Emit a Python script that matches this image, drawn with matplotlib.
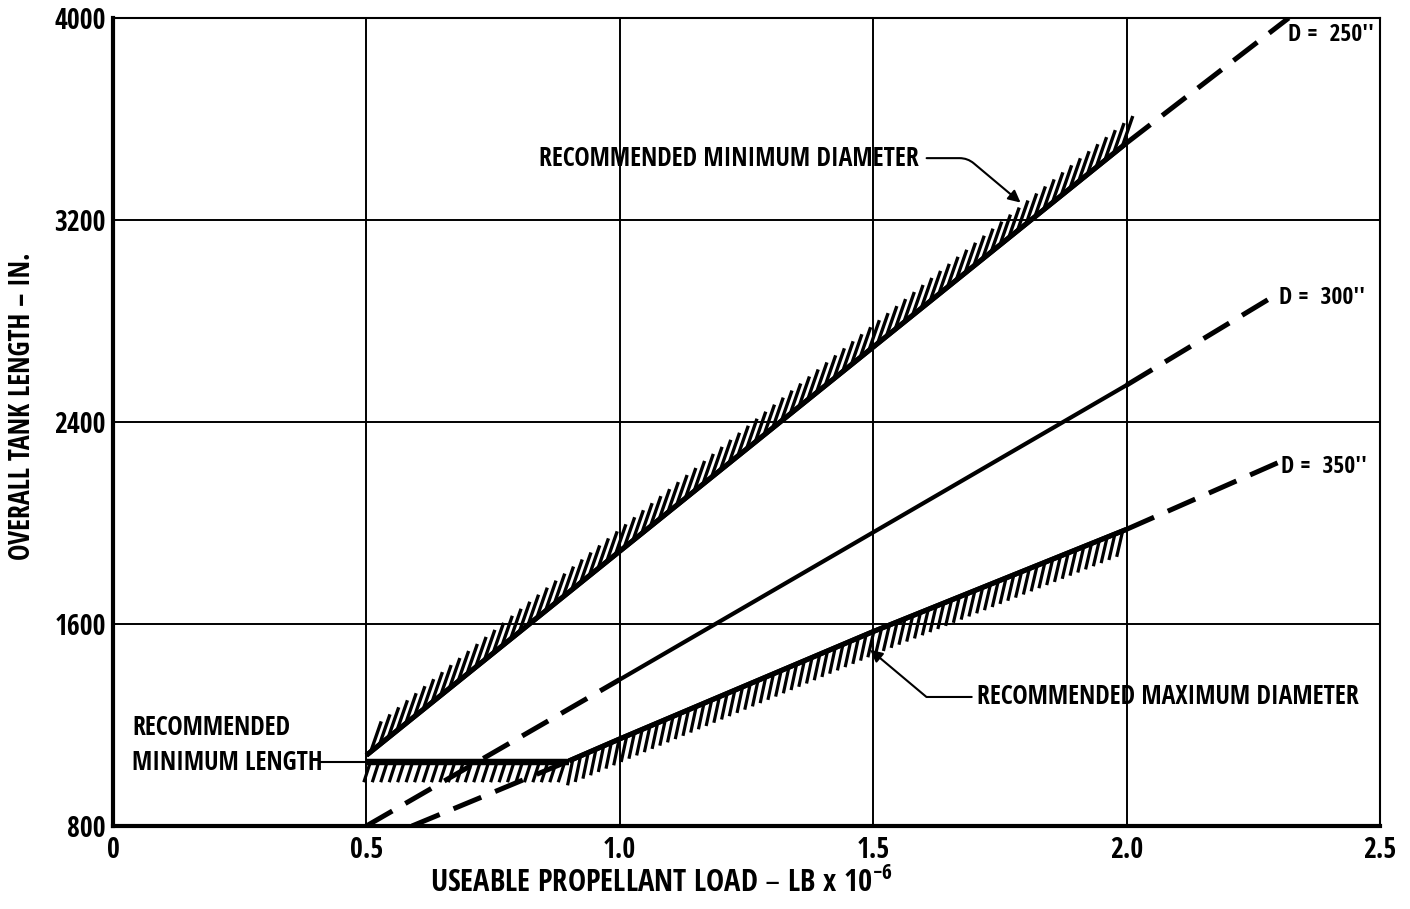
import numpy as np
import matplotlib.pyplot as plt
import matplotlib.patheffects as pe

plt.rcParams['font.family'] = ['Open Sans Condensed', 'Liberation Sans Narrow', 'DejaVu Sans']
plt.rcParams['font.weight'] = 'bold'
plt.rcParams['axes.labelweight'] = 'bold'
plt.rcParams['mathtext.default'] = 'regular'

# D = 250 in. curve (solid part, then dashed extension)
d250_x = [0.5, 2.0]
d250_y = [1080, 3505]
d250_ext_x = [2.0, 2.32]
d250_ext_y = [3505, 4000]

# D = 300 in. curve
d300_lo_x = [0.5, 1.0]
d300_lo_y = [800, 1380]
d300_x = [1.0, 2.0]
d300_y = [1380, 2546]
d300_ext_x = [2.0, 2.3]
d300_ext_y = [2546, 2910]

# D = 350 in. curve
d350_lo_x = [0.59, 0.9]
d350_lo_y = [800, 1058]
d350_x = [0.9, 1.0, 1.5, 2.0]
d350_y = [1058, 1145, 1570, 1975]
d350_ext_x = [2.0, 2.3]
d350_ext_y = [1975, 2240]

# recommended minimum length
minlen_x = [0.5, 0.9]
minlen_y = [1055, 1055]

xticks = [0, 0.5, 1.0, 1.5, 2.0, 2.5]
xticklabels = ['0', '0.5', '1.0', '1.5', '2.0', '2.5']
yticks = [800, 1600, 2400, 3200, 4000]

fig = plt.figure(figsize=(14.1, 9.09), dpi=100)
ax = fig.add_axes([0.0801, 0.0913, 0.8986, 0.8889])

dash = (6, 3)
lw = 3.6

# hatched limit lines
ax.plot(d250_x, d250_y, color='black', lw=lw, solid_capstyle='butt',
        path_effects=[pe.withTickedStroke(spacing=8, angle=32, length=2.9, linewidth=2.4),
                      pe.Normal()])
ax.plot(d250_ext_x, d250_ext_y, color='black', lw=lw, dashes=dash)

ax.plot(d300_lo_x, d300_lo_y, color='black', lw=lw, dashes=dash)
ax.plot(d300_x, d300_y, color='black', lw=3.0)
ax.plot(d300_ext_x, d300_ext_y, color='black', lw=lw, dashes=dash)

ax.plot(d350_lo_x, d350_lo_y, color='black', lw=lw, dashes=dash)
ax.plot(d350_x, d350_y, color='black', lw=lw, solid_capstyle='butt',
        path_effects=[pe.withTickedStroke(spacing=6, angle=-125, length=3.2, linewidth=2.3),
                      pe.Normal()])
ax.plot(d350_ext_x, d350_ext_y, color='black', lw=lw, dashes=dash)

ax.plot(minlen_x, minlen_y, color='black', lw=4.5, solid_capstyle='butt',
        path_effects=[pe.withTickedStroke(spacing=6, angle=-108, length=2.6, linewidth=2.3),
                      pe.Normal()])

# grid and frame
ax.set_xlim(0, 2.5)
ax.set_ylim(800, 4000)
ax.set_xticks(xticks)
ax.set_xticklabels(xticklabels)
ax.set_yticks(yticks)
ax.grid(True, color='black', lw=1.4)
ax.set_axisbelow(True)
ax.tick_params(length=0, labelsize=20, pad=7)
ax.tick_params(axis='y', pad=5)
for s in ['left', 'bottom']:
    ax.spines[s].set_linewidth(3)
for s in ['top', 'right']:
    ax.spines[s].set_linewidth(1.5)

ax.set_ylabel('OVERALL TANK LENGTH \u2013 IN.', fontsize=20)
ax.yaxis.set_label_coords(-0.06, 0.52)
ax.set_xlabel('USEABLE PROPELLANT LOAD \u2013 LB x 10$^{-6}$', fontsize=22)
ax.xaxis.set_label_coords(0.433, -0.052)

# curve labels
ax.text(2.318, 3932, "D =  250''", fontsize=17, va='center', ha='left')
ax.text(2.30, 2891, "D =  300''", fontsize=17, va='center', ha='left')
ax.text(2.305, 2222, "D =  350''", fontsize=17, va='center', ha='left')

# callouts
ax.text(1.59, 3445, 'RECOMMENDED MINIMUM DIAMETER', fontsize=18.5, va='center', ha='right')
ax.annotate('', xy=(1.795, 3262), xytext=(1.60, 3445),
            arrowprops=dict(arrowstyle='-|>', color='black', lw=1.5,
                            connectionstyle='angle,angleA=0,angleB=140,rad=8',
                            mutation_scale=18))

ax.text(1.705, 1311, 'RECOMMENDED MAXIMUM DIAMETER', fontsize=18.5, va='center', ha='left')
ax.annotate('', xy=(1.49, 1505), xytext=(1.70, 1311),
            arrowprops=dict(arrowstyle='-|>', color='black', lw=1.5,
                            connectionstyle='angle,angleA=0,angleB=-40,rad=0',
                            mutation_scale=18))

ax.text(0.0375, 1192, 'RECOMMENDED', fontsize=18.5, va='center', ha='left')
ax.text(0.0375, 1053, 'MINIMUM LENGTH', fontsize=18.5, va='center', ha='left')
ax.plot([0.41, 0.5], [1053, 1053], color='black', lw=1.5)

fig.savefig('out.png', dpi=100)
